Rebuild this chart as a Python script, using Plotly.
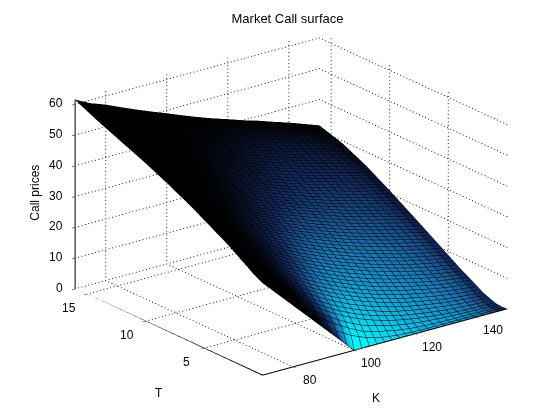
import plotly.graph_objects as go

K_VALUES = [70, 75, 80, 85, 90, 95, 100, 105, 110, 115, 120, 125, 130, 135, 140, 145, 150]
T_VALUES = [0, 0.25, 0.5, 1, 2, 3, 4, 6, 8, 10, 12, 14, 16]
CALL_PRICES = [
    [30, 25, 20, 15, 10, 5, 0, 0, 0, 0, 0, 0, 0, 0, 0, 0, 0],
    [30.5, 25.6, 20.7, 15.9, 11.3, 7.3, 4.4, 2.3, 1.1, .4, .1, 0, 0, 0, 0, 0, 0],
    [31, 26.1, 21.4, 16.9, 12.8, 9.3, 6.4, 3.9, 2.6, 1.5, .8, .4, .2, .1, .05, 0, 0],
    [32.2, 27.6, 23.3, 19.2, 15.5, 12.3, 9.5, 7.2, 5.4, 3.9, 2.8, 2, 1.4, .9, .6, .4, .3],
    [34.8, 30.5, 26.6, 23, 19.7, 16.7, 14.1, 11.8, 9.8, 8.1, 6.6, 5.4, 4.4, 3.5, 2.8, 2.3, 1.8],
    [37.4, 33.4, 29.8, 26.4, 23.2, 20.4, 17.9, 15.6, 13.5, 11.7, 10, 8.7, 7.5, 6.4, 5.4, 4.7, 4.1],
    [39.6, 36, 32.6, 29.5, 26.5, 23.7, 21.2, 19, 16.9, 15.1, 13.4, 11.9, 10.5, 9.2, 8.1, 7.2, 6.3],
    [44, 40.7, 37.7, 34.8, 32.1, 29.6, 27.2, 25, 22.9, 21, 19.2, 17.6, 16.2, 14.8, 13.6, 12.4, 11.3],
    [47.9, 44.9, 42.1, 39.4, 36.9, 34.5, 32.2, 30.1, 28.2, 26.3, 24.6, 22.9, 21.3, 20, 18.7, 17.4, 16.2],
    [51.5, 48.7, 46.1, 43.6, 41.3, 39, 36.9, 34.8, 32.8, 31, 29.3, 27.7, 26.3, 24.8, 23.4, 22.2, 21],
    [54.7, 52.2, 49.8, 47.4, 45.1, 43, 41, 39, 37.2, 35.4, 33.8, 32.2, 30.7, 29.3, 27.9, 26.7, 25.5],
    [57.9, 55.6, 53.4, 51.2, 49, 47, 45, 43.1, 41.3, 39.6, 38, 36.4, 34.9, 33.4, 32, 30.7, 29.2],
    [61.5, 59, 57.2, 55, 52.9, 50.9, 49, 47, 45.1, 43.3, 41.7, 40, 38.5, 36.8, 35.2, 33.4, 31.6],
]
# how dark the dense mesh makes each part of the surface look: 0 is bare cyan, 1 is solid black
MESH_DARKNESS = [
    [1, 1, 1, 1, 1, .8, .0, .05, .1, .18, .22, .28, .33, .38, .45, .6, .9],
    [1, 1, 1, 1, .95, .6, .05, .08, .14, .2, .25, .3, .34, .38, .45, .55, .85],
    [1, 1, 1, 1, .95, .65, .12, .12, .16, .2, .27, .31, .35, .4, .45, .55, .85],
    [1, 1, 1, .98, .85, .55, .25, .2, .22, .25, .3, .34, .38, .42, .48, .58, .82],
    [1, 1, 1, .95, .78, .55, .38, .3, .3, .32, .35, .38, .41, .45, .5, .58, .8],
    [1, 1, .98, .92, .78, .62, .48, .41, .38, .38, .4, .42, .44, .47, .52, .6, .8],
    [1, 1, .98, .93, .82, .7, .57, .48, .45, .43, .44, .45, .48, .5, .55, .62, .8],
    [1, 1, .99, .95, .88, .8, .7, .62, .57, .55, .54, .54, .55, .57, .6, .65, .82],
    [1, 1, 1, .98, .94, .9, .82, .75, .7, .66, .64, .63, .63, .64, .66, .7, .85],
    [1, 1, 1, 1, .98, .95, .9, .85, .8, .76, .73, .71, .71, .71, .72, .76, .88],
    [1, 1, 1, 1, 1, .98, .95, .92, .89, .85, .81, .79, .78, .78, .79, .83, .92],
    [1, 1, 1, 1, 1, 1, .98, .97, .95, .93, .9, .88, .87, .87, .88, .9, .96],
    [1, 1, 1, 1, 1, 1, 1, 1, 1, 1, 1, 1, 1, 1, 1, 1, 1],
]
K_TICKS = [80, 100, 120, 140]
T_TICKS = [5, 10, 15]
Z_TICKS = [0, 10, 20, 30, 40, 50, 60]
K_RANGE = [70, 150]
T_RANGE = [0, 16]
Z_RANGE = [0, 61.5]
TITLE = "Market Call surface"
FONT = "Liberation Sans"
SURFACE_COLORS = [[0, "#00ffff"], [0.25, "#10c0e8"], [0.5, "#1a78b8"], [0.75, "#142a60"], [1, "#000000"]]

fig = go.Figure()
fig.add_trace(go.Surface(
    x=K_VALUES, y=T_VALUES, z=CALL_PRICES, surfacecolor=MESH_DARKNESS, cmin=0, cmax=1, showscale=False,
    colorscale=SURFACE_COLORS,
    lighting=dict(ambient=1, diffuse=0, specular=0, roughness=1, fresnel=0),
    hoverinfo="skip",
    contours=dict(
        x=dict(show=True, start=70, end=150, size=2.5, color="#000000", width=1, highlight=False),
        y=dict(show=True, start=0, end=16, size=0.25, color="#000000", width=1, highlight=False),
        z=dict(highlight=False),
    ),
))


def dots(a, b, n):
    xs = [a[0] + (b[0] - a[0]) * i / n for i in range(n + 1)]
    ys = [a[1] + (b[1] - a[1]) * i / n for i in range(n + 1)]
    zs = [a[2] + (b[2] - a[2]) * i / n for i in range(n + 1)]
    fig.add_trace(go.Scatter3d(x=xs, y=ys, z=zs, mode="markers", hoverinfo="skip", showlegend=False,
                               marker=dict(color="#000000", size=0.6, line=dict(width=0))))


def solid(a, b):
    fig.add_trace(go.Scatter3d(x=[a[0], b[0]], y=[a[1], b[1]], z=[a[2], b[2]], mode="lines",
                               hoverinfo="skip", showlegend=False,
                               line=dict(color="#000000", width=2)))


k0, k1 = K_RANGE
t0, t1 = T_RANGE
z0, z1 = Z_RANGE
for k in K_TICKS:
    dots((k, t0, z0), (k, t1, z0), 60)
    dots((k, t1, z0), (k, t1, z1), 52)
for t in T_TICKS:
    dots((k0, t, z0), (k1, t, z0), 72)
    dots((k1, t, z0), (k1, t, z1), 52)
for z in Z_TICKS:
    dots((k0, t1, z), (k1, t1, z), 72)
    dots((k1, t0, z), (k1, t1, z), 60)
solid((k0, t1, z0), (k0, t1, z1))
solid((k0, t0, z0), (k0, t1, z0))
solid((k0, t0, z0), (k1, t0, z0))


def ax(ticks, rng):
    return dict(title=dict(text=""), range=rng, tickvals=ticks, showticklabels=False,
                showgrid=False, zeroline=False, showline=False, showbackground=False,
                showspikes=False, ticks="outside", ticklen=4, tickcolor="#000000")


def note(text, x, y, z, dx, dy, angle=0, anchor="center"):
    return dict(text=text, x=x, y=y, z=z, xshift=dx, yshift=dy, showarrow=False, textangle=angle,
                xanchor=anchor, font=dict(family=FONT, size=12, color="#000000"))


notes = []
for k in K_TICKS:
    notes.append(note(str(k), k, t0, z0, 17, -13))
for t in T_TICKS:
    notes.append(note(str(t), k0, t, z0, -18, -14))
for z in Z_TICKS:
    notes.append(note(str(z), k0, t1, z, -10, 1, anchor="right"))
notes.append(note("K", 112, t0, z0, -15, -58))
notes.append(note("T", k0, 6, z0, -33, -50))
notes.append(note("Call prices", k0, t1, 30, -41, 4, -90))

el_c, az_s, az_c, el_s = 0.9354, -0.6088, 0.7934, 0.3535
R = 2.0
S = 1.466
CZ = -0.07
fig.update_layout(
    width=560, height=420, margin=dict(l=0, r=0, t=0, b=0), paper_bgcolor="#ffffff",
    showlegend=False,
    title=dict(text=TITLE, x=0.4991, y=0.976, xanchor="center", yanchor="middle",
               font=dict(family=FONT, size=13, color="#000000")),
    scene=dict(
        domain=dict(x=[0, 1], y=[0, 1]),
        xaxis=ax(K_TICKS, K_RANGE),
        yaxis=ax(T_TICKS, T_RANGE),
        zaxis=ax(Z_TICKS, Z_RANGE),
        annotations=notes,
        aspectmode="manual", aspectratio=dict(x=S, y=S, z=0.657 * S),
        camera=dict(projection=dict(type="orthographic"),
                    eye=dict(x=R * el_c * az_s - 0.0113, y=-R * el_c * az_c + 0.0087, z=R * el_s + CZ),
                    center=dict(x=-0.0113, y=0.0087, z=CZ), up=dict(x=0, y=0, z=1)),
    ),
)
fig.write_html("out.html", config=dict(displayModeBar=False))
